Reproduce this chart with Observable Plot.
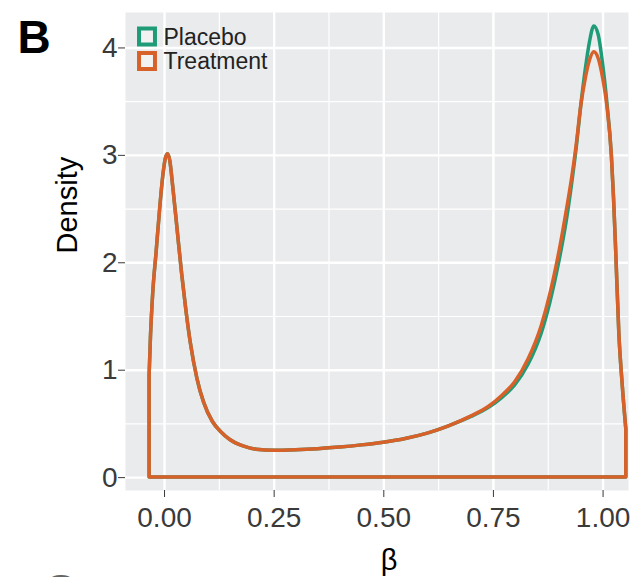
<!DOCTYPE html>
<html><head><meta charset="utf-8">
<script src="https://cdn.jsdelivr.net/npm/d3@7"></script>
<script src="https://cdn.jsdelivr.net/npm/@observablehq/plot@0.6"></script>
<style>
html,body{margin:0;padding:0;background:#fff;}
#chart{width:633px;height:577px;overflow:hidden;}
</style>
</head><body><div id="chart"></div>
<script>
const series = ["Placebo", "Treatment"];
const colors = ["#1E9C78", "#D8612A"];
const beta = [-0.034, -0.031, -0.026, -0.018, -0.010, -0.003, 0.003, 0.008, 0.013, 0.020, 0.030, 0.040, 0.050, 0.060, 0.075, 0.090, 0.110, 0.130, 0.150, 0.180, 0.210, 0.250, 0.300, 0.350, 0.400, 0.450, 0.500, 0.550, 0.600, 0.650, 0.700, 0.740, 0.770, 0.800, 0.830, 0.860, 0.880, 0.900, 0.920, 0.930, 0.940, 0.950, 0.960, 0.970, 0.980, 0.990, 1.000, 1.010, 1.020, 1.025, 1.030, 1.037, 1.045, 1.053];
const placeboDensity = [0.95, 1.3, 1.7, 2.1, 2.5, 2.8, 2.97, 3.01, 2.95, 2.7, 2.3, 1.9, 1.55, 1.25, 0.92, 0.7, 0.52, 0.42, 0.35, 0.29, 0.26, 0.25, 0.255, 0.265, 0.28, 0.30, 0.325, 0.36, 0.41, 0.48, 0.565, 0.65, 0.74, 0.86, 1.05, 1.34, 1.63, 2.00, 2.46, 2.75, 3.07, 3.45, 3.78, 4.05, 4.20, 4.12, 3.85, 3.48, 3.00, 2.60, 2.10, 1.35, 0.85, 0.45];
const treatmentDensity = [0.95, 1.3, 1.7, 2.1, 2.5, 2.8, 2.97, 3.01, 2.95, 2.7, 2.3, 1.9, 1.55, 1.25, 0.92, 0.7, 0.52, 0.42, 0.35, 0.29, 0.26, 0.25, 0.255, 0.265, 0.28, 0.30, 0.325, 0.36, 0.41, 0.48, 0.57, 0.66, 0.76, 0.89, 1.10, 1.41, 1.71, 2.09, 2.55, 2.80, 3.10, 3.45, 3.70, 3.88, 3.96, 3.90, 3.72, 3.45, 3.00, 2.60, 2.10, 1.35, 0.85, 0.45];
const xTicks = [0, 0.25, 0.5, 0.75, 1];
const xMinorTicks = [0.125, 0.375, 0.625, 0.875];
const yTicks = [0, 1, 2, 3, 4];
const yMinorTicks = [0.5, 1.5, 2.5, 3.5];
const xLabel = "β";
const yLabel = "Density";
const panelTag = "B";
const nextPanelTag = "C";

const densities = [placeboDensity, treatmentDensity];
const rows = series.flatMap((s, i) => beta.map((b, j) => ({series: s, beta: b, density: densities[i][j]})));

const font = "'Liberation Sans', Arial, Helvetica, sans-serif";
const legendDy = [24, 48.5];

const plot = Plot.plot({
  width: 633, height: 577,
  marginTop: 12, marginBottom: 87, marginLeft: 125, marginRight: 5,
  style: {fontFamily: font, background: "#fff", overflow: "hidden"},
  x: {domain: [-0.089, 1.058]},
  y: {domain: [-0.12, 4.33]},
  color: {domain: series, range: colors},
  marks: [
    Plot.frame({fill: "#EAEBED"}),
    Plot.gridX(xMinorTicks, {stroke: "#fff", strokeOpacity: 1, strokeWidth: 1.2}),
    Plot.gridY(yMinorTicks, {stroke: "#fff", strokeOpacity: 1, strokeWidth: 1.2}),
    Plot.gridX(xTicks, {stroke: "#fff", strokeOpacity: 1, strokeWidth: 2.4}),
    Plot.gridY(yTicks, {stroke: "#fff", strokeOpacity: 1, strokeWidth: 2.4}),
    Plot.areaY(rows, {x: "beta", y1: 0, y2: "density", z: "series", stroke: "series", fill: "none", strokeWidth: 3.5, strokeLinejoin: "round", curve: "monotone-x"}),
    Plot.axisX(xTicks, {tickFormat: d3.format(".2f"), tickSize: 7, tickPadding: 10, fontSize: 28, color: "#3a3a3a", label: null}),
    Plot.axisY(yTicks, {tickFormat: d3.format("d"), tickSize: 7, tickPadding: 1, fontSize: 28, color: "#3a3a3a", label: null}),
    Plot.text([yLabel], {frameAnchor: "left", dx: -58, dy: 2, rotate: -90, text: d => d, fontSize: 29, fill: "#000", lineAnchor: "middle"}),
    Plot.text([xLabel], {frameAnchor: "bottom", dx: 12, dy: 70, text: d => d, fontSize: 29, fill: "#000", lineAnchor: "middle"}),
    Plot.text([panelTag], {frameAnchor: "top-left", dx: -108, dy: 8, text: d => d, textAnchor: "start", lineAnchor: "top", fontSize: 46, fontWeight: "bold", fill: "#000"}),
    Plot.text([nextPanelTag], {frameAnchor: "top-left", dx: -82, dy: 562, text: d => d, textAnchor: "start", lineAnchor: "top", fontSize: 46, fontWeight: "bold", fill: "#666"}),
    ...series.map((s, i) => Plot.dot([s], {frameAnchor: "top-left", dx: 21.5, dy: legendDy[i], symbol: "square", r: 9, stroke: colors[i], strokeWidth: 4, fill: "#F2F2F2"})),
    ...series.map((s, i) => Plot.text([s], {frameAnchor: "top-left", dx: 38, dy: legendDy[i] + 1, text: d => d, textAnchor: "start", lineAnchor: "middle", fontSize: 23, fill: "#222"}))
  ]
});
document.getElementById("chart").appendChild(plot);
</script>
</body></html>
